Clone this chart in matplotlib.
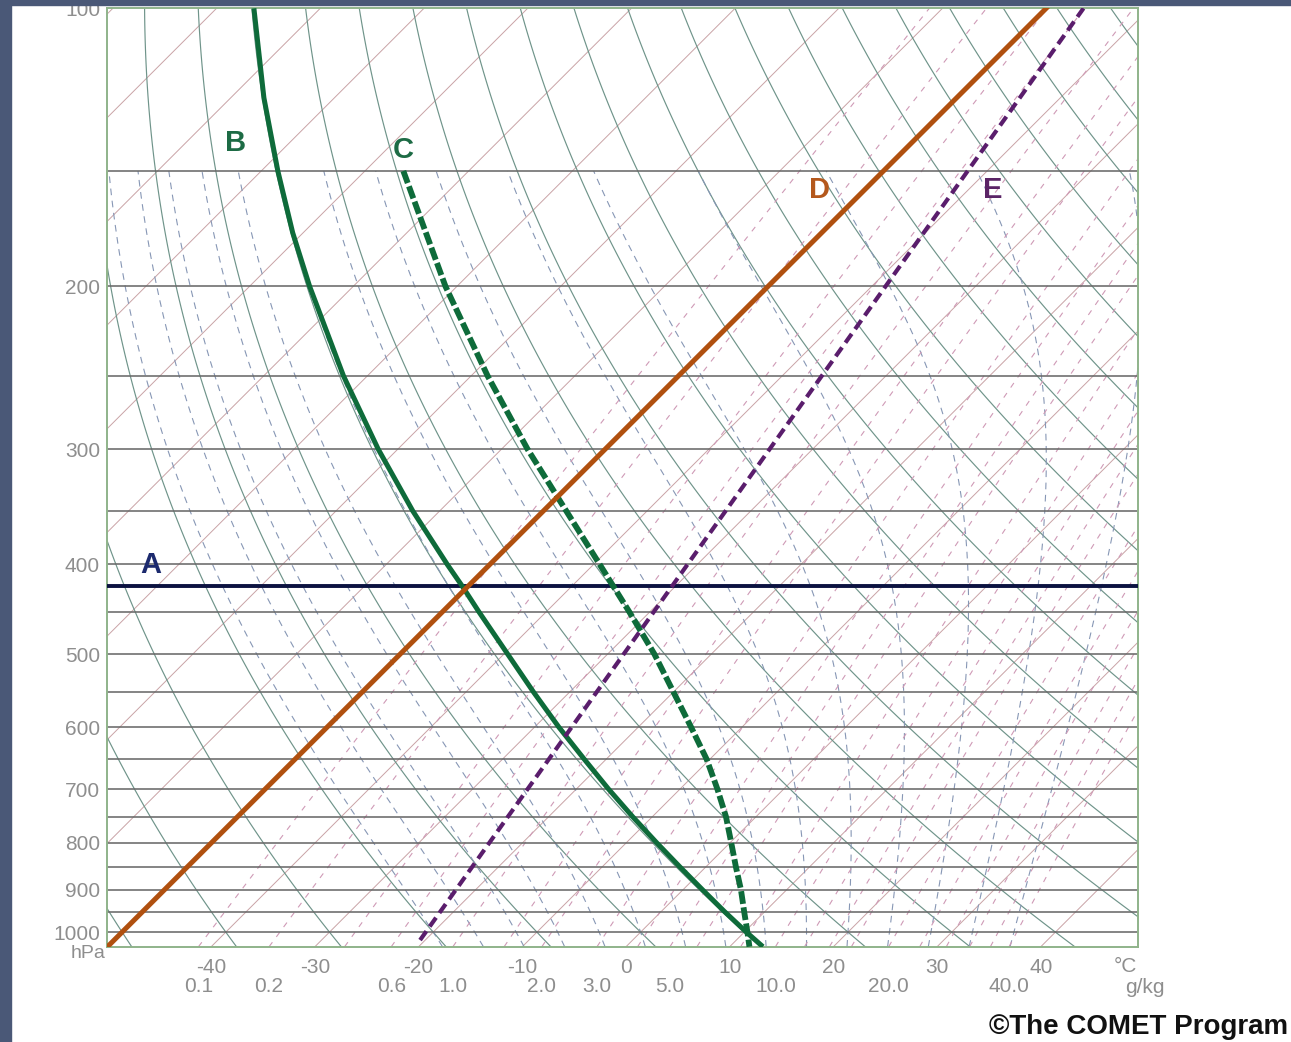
"""Skew-T log-p diagram with the five highlighted line types (A-E)."""
import numpy as np
import matplotlib
matplotlib.use("Agg")
import matplotlib.pyplot as plt
from matplotlib.patches import Rectangle
from matplotlib.ticker import NullLocator
import matplotlib.transforms as mtransforms

plt.rcParams["font.family"] = ["Liberation Sans", "DejaVu Sans"]

# ---- diagram frame ----
P_TOP = 100
P_BOT = 1037
SKEW = 38.7                     # degC shift per unit ln(p)
X_LEFT, X_RIGHT = -50.05, 49.37

isobars = list(range(150, 1001, 50))
pressure_labels = [100, 200, 300, 400, 500, 600, 700, 800, 900, 1000]
temp_ticks = [-40, -30, -20, -10, 0, 10, 20, 30, 40]
mix_labels = [0.1, 0.2, 0.6, 1.0, 2.0, 3.0, 5.0, 10.0, 20.0, 40.0]

# background families
isotherms = list(range(-140, 50, 10))
dry_theta = list(range(-50, 181, 10))          # potential temperature, degC
moist_thetaw = list(range(-20, 37, 4))         # wet-bulb potential temperature, degC
mix_lines = [0.1, 0.2, 0.4, 0.6, 1.0, 1.5, 2.0, 3.0, 4.0, 5.0, 6.0, 8.0,
             10.0, 12.0, 14.0, 16.0, 20.0, 24.0, 28.0, 32.0, 36.0, 40.0]

# ---- highlighted lines ----
a_p = 422                                         # A: isobar
b_p = [100, 125, 150, 175, 200, 250, 300, 350, 400, 422, 450, 500, 550, 600,
       650, 700, 750, 800, 850, 900, 950, 1000, 1037]
b_t = [-126.4, -116.8, -108.4, -101.0, -94.2, -82.3, -71.9, -62.6, -54.1, -50.6,
       -46.5, -39.65, -33.45, -27.65, -22.1, -16.9, -11.9, -7.1, -2.5, 1.9, 6.1,
       10.2, 13.2]                                # B: dry adiabat
c_p = [150, 200, 250, 300, 350, 400, 450, 500, 600, 650, 700, 750, 800, 850,
       900, 950, 1000, 1037]
c_t = [-96.3, -81.1, -68.4, -57.5, -47.8, -39.4, -32.0, -25.5, -14.9, -10.3,
       -6.4, -2.9, 0.1, 2.9, 5.6, 8.0, 10.3, 11.9]  # C: moist adiabat
d_p = [1037, 100]
d_t = [-50, -50]                                  # D: isotherm
e_p = [1020, 100]
e_t = [-20.5, -46.4]                              # E: mixing ratio line


def skx(t, p):
    return np.asarray(t) + SKEW * np.log(P_BOT / np.asarray(p, dtype=float))


def dtdp(t, p):
    es = 6.112 * np.exp(17.67 * (t - 273.15) / (t - 29.65))
    rs = 0.622 * es / (p - es)
    num = 287.04 * t + 2.501e6 * rs
    den = 1005.7 + 2.501e6 ** 2 * rs * 0.622 / (287.04 * t * t)
    return num / den / p


def moist_adiabat(tw, plevs):
    t = tw + 273.15
    out = [t]
    for p0, p1 in zip(plevs[:-1], plevs[1:]):
        h = p1 - p0
        k1 = dtdp(t, p0)
        k2 = dtdp(t + h * k1 / 2, p0 + h / 2)
        k3 = dtdp(t + h * k2 / 2, p0 + h / 2)
        k4 = dtdp(t + h * k3, p1)
        t = t + h * (k1 + 2 * k2 + 2 * k3 + k4) / 6
        out.append(t)
    return np.array(out) - 273.15


def mix_temp(w, p):
    e = w * p / (622.0 + w)
    l = np.log(e / 6.112)
    return 243.5 * l / (17.67 - l)


W, H = 1291, 1042
fig = plt.figure(figsize=(W / 100, H / 100), dpi=100)
fig.patch.set_facecolor("white")
ax = fig.add_axes([107 / W, (H - 946.7) / H, 1031 / W, 938.4 / H])
ax.set_yscale("log")
ax.set_ylim(P_BOT, P_TOP)
ax.set_xlim(X_LEFT, X_RIGHT)

pp = np.geomspace(P_BOT, P_TOP, 120)

for t in isotherms:
    ax.plot(skx([t, t], [P_BOT, P_TOP]), [P_BOT, P_TOP], color="#c9a3a6", lw=0.7, zorder=1)

for th in dry_theta:
    tt = (th + 273.15) * (pp / 1000.0) ** 0.286 - 273.15
    ax.plot(skx(tt, pp), pp, color="#6f948a", lw=0.85, zorder=1)

p_up = np.linspace(1000, 150, 170)
p_dn = np.linspace(1000, P_BOT, 10)
for tw in moist_thetaw:
    tu = moist_adiabat(tw, p_up)
    td = moist_adiabat(tw, p_dn)
    ps = np.concatenate([p_dn[::-1], p_up[1:]])
    ts = np.concatenate([td[::-1], tu[1:]])
    ax.plot(skx(ts, ps), ps, color="#8797b5", lw=0.8, dashes=(6, 5), zorder=1)

for w in mix_lines:
    tt = mix_temp(w, pp)
    ax.plot(skx(tt, pp), pp, color="#cf9ab6", lw=0.8, dashes=(5, 6), zorder=1)

for p in isobars:
    ax.axhline(p, color="#696969", lw=1.15, zorder=2)

# highlighted lines
ax.axhline(a_p, color="#0b1240", lw=2.8, zorder=5)
ax.plot(skx(b_t, b_p), b_p, color="#0e6b3a", lw=3.6, zorder=5, solid_capstyle="butt")
ax.plot(skx(c_t, c_p), c_p, color="#0e6b3a", lw=4.2, dashes=(2.2, 0.6), zorder=5)
ax.plot(skx(d_t, d_p), d_p, color="#b0500f", lw=3.6, zorder=5)
ax.plot(skx(e_t, e_p), e_p, color="#5a1d6c", lw=3.0, dashes=(2.6, 1.4), zorder=5)

lbl = dict(fontsize=21, fontweight="bold", ha="center", va="center", zorder=6)
ax.text(-45.8, 401, "A", color="#1c2a6e", **lbl)
ax.text(-37.7, 139.9, "B", color="#1d6b45", **lbl)
ax.text(-21.5, 142.3, "C", color="#1d6b45", **lbl)
ax.text(18.7, 157.3, "D", color="#b4581c", **lbl)
ax.text(35.4, 157.3, "E", color="#5b2466", **lbl)

# axes frame and ticks
for s in ax.spines.values():
    s.set_color("#8fb38a")
    s.set_linewidth(1.4)
ax.set_yticks(pressure_labels)
ax.set_yticklabels([str(p) for p in pressure_labels])
ax.yaxis.set_minor_locator(NullLocator())
ax.set_xticks(temp_ticks)
ax.set_xticklabels([str(t) for t in temp_ticks])
ax.tick_params(axis="both", length=0, labelsize=15, labelcolor="#8e8e8e")
ax.tick_params(axis="x", pad=8)
ax.tick_params(axis="y", pad=5)

trans = mtransforms.blended_transform_factory(ax.transData, ax.transAxes)
for w in mix_labels:
    ax.text(mix_temp(w, P_BOT), -0.042, f"{w:.1f}", transform=trans, ha="center",
            va="center", fontsize=15, color="#8e8e8e", clip_on=False)
ax.text(-0.001, -0.007, "hPa", transform=ax.transAxes, ha="right", va="center",
        fontsize=14, color="#8e8e8e", clip_on=False)
ax.text(1.0 - 0.012, -0.0216, "°C", transform=ax.transAxes, ha="center", va="center",
        fontsize=15, color="#8e8e8e", clip_on=False)
ax.text(1.0 + 0.007, -0.044, "g/kg", transform=ax.transAxes, ha="center", va="center",
        fontsize=15, color="#8e8e8e", clip_on=False)

fig.text(989 / W, 1 - 1027 / H, "\u00a9The COMET Program", fontsize=20, fontweight="bold",
         color="#111111", ha="left", va="center")

# dark slide border (left and top)
dark = "#4a5877"
fig.add_artist(Rectangle((0, 0), 11 / W, 1, transform=fig.transFigure, color=dark, zorder=10))
fig.add_artist(Rectangle((0, 1 - 5 / H), 1, 5 / H, transform=fig.transFigure, color=dark, zorder=10))

fig.savefig("out.png", dpi=100, facecolor="white")
